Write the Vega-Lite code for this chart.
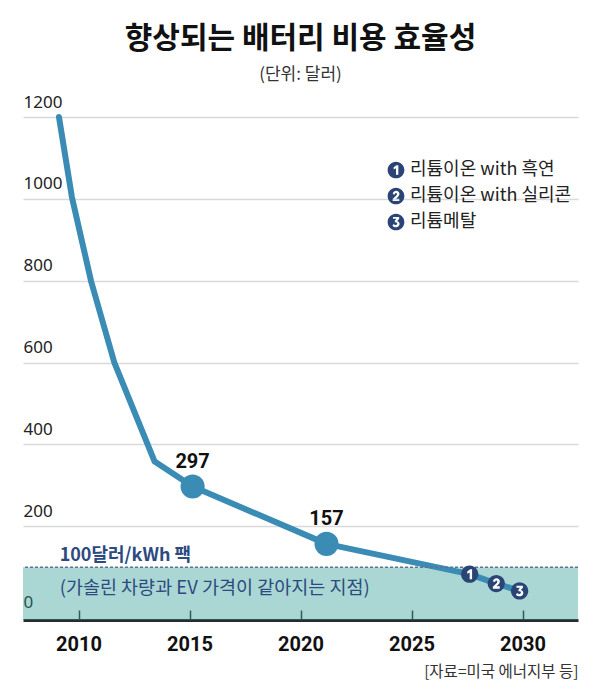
{
  "$schema": "https://vega.github.io/schema/vega-lite/v6.json",
  "autosize": {"type": "none"},
  "padding": {"left": 23, "top": 117, "right": 22, "bottom": 79},
  "width": 555,
  "height": 503,
  "background": "white",
  "title": {
    "text": "향상되는 배터리 비용 효율성",
    "subtitle": "(단위: 달러)",
    "anchor": "middle",
    "font": "Noto Sans CJK KR",
    "fontSize": 30,
    "fontWeight": "bold",
    "color": "#111111",
    "subtitleFont": "Noto Sans CJK KR",
    "subtitleFontSize": 17,
    "subtitleColor": "#333333",
    "subtitlePadding": 13,
    "offset": 10
  },
  "config": {
    "view": {"stroke": null},
    "axis": {"zindex": 0}
  },
  "datasets": {
    "cost": [
      {"year": 2009.12, "cost": 1200},
      {"year": 2009.70, "cost": 1005},
      {"year": 2010.57, "cost": 798},
      {"year": 2011.62, "cost": 599},
      {"year": 2013.43, "cost": 358},
      {"year": 2015.14, "cost": 297, "label": "297"},
      {"year": 2021.17, "cost": 157, "label": "157"},
      {"year": 2027.62, "cost": 83, "tech": "리튬이온 with 흑연"},
      {"year": 2028.82, "cost": 60, "tech": "리튬이온 with 실리콘"},
      {"year": 2029.87, "cost": 42, "tech": "리튬메탈"}
    ],
    "parity": [
      {"cost": 100, "title": "100달러/kWh 팩", "note": "(가솔린 차량과  EV 가격이 같아지는 지점)"}
    ]
  },
  "layer": [
    {
      "data": {"name": "parity"},
      "mark": {"type": "rect", "color": "#2a9a92", "opacity": 0.4},
      "encoding": {
        "y": {"field": "cost", "type": "quantitative"},
        "y2": {"datum": -29}
      }
    },
    {
      "data": {"name": "cost"},
      "mark": {"type": "line", "color": "#3a8cb5", "strokeWidth": 6, "strokeCap": "round", "strokeJoin": "round"},
      "encoding": {
        "x": {
          "field": "year", "type": "quantitative",
          "scale": {"domain": [2007.5, 2032.5], "nice": false, "zero": false},
          "axis": {
            "values": [2010, 2015, 2020, 2025, 2030],
            "format": "d",
            "grid": false,
            "labelFont": "Roboto",
            "labelFontSize": 20,
            "labelFontWeight": "bold",
            "labelColor": "#111111",
            "labelPadding": 24,
            "domainColor": "#2b2b2b",
            "domainWidth": 3,
            "tickColor": "#333333",
            "tickWidth": 1.5,
            "tickSize": -10,
            "title": "[자료=미국 에너지부 등]",
            "titleAnchor": "end",
            "titleFont": "Noto Sans CJK KR",
            "titleFontSize": 15.5,
            "titleFontWeight": "normal",
            "titleColor": "#333333",
            "titlePadding": 10
          }
        },
        "y": {
          "field": "cost", "type": "quantitative",
          "scale": {"domain": [-29, 1200], "nice": false, "zero": false},
          "axis": {
            "values": [0, 200, 400, 600, 800, 1000, 1200],
            "format": "d",
            "title": null,
            "domain": false,
            "ticks": false,
            "grid": true,
            "gridColor": "#d9d9d9",
            "gridWidth": 1.5,
            "gridOpacity": {"condition": {"test": "datum.value === 0", "value": 0}, "value": 1},
            "labelAlign": "left",
            "labelBaseline": "alphabetic",
            "labelPadding": 0,
            "labelOffset": {"condition": {"test": "datum.value === 0", "value": -1}, "value": -10},
            "labelFont": "Noto Sans",
            "labelFontSize": 17,
            "labelColor": "#222222"
          }
        }
      }
    },
    {
      "data": {"name": "parity"},
      "mark": {"type": "rule", "color": "#5f7396", "strokeWidth": 1.5, "strokeDash": [3, 2]},
      "encoding": {
        "y": {"field": "cost", "type": "quantitative"}
      }
    },
    {
      "data": {"name": "parity"},
      "mark": {"type": "text", "align": "left", "baseline": "middle", "dy": -11, "font": "Noto Sans CJK KR", "fontSize": 18, "fontWeight": "bold", "color": "#2d4a80"},
      "encoding": {
        "x": {"datum": 2009.15, "type": "quantitative"},
        "y": {"field": "cost", "type": "quantitative"},
        "text": {"field": "title"}
      }
    },
    {
      "data": {"name": "parity"},
      "mark": {"type": "text", "align": "left", "baseline": "middle", "dy": 21, "font": "Noto Sans CJK KR", "fontSize": 18.5, "color": "#2d4a80"},
      "encoding": {
        "x": {"datum": 2009.15, "type": "quantitative"},
        "y": {"field": "cost", "type": "quantitative"},
        "text": {"field": "note"}
      }
    },
    {
      "data": {"name": "cost"},
      "transform": [{"filter": "isValid(datum.label)"}],
      "mark": {"type": "point", "shape": "circle", "filled": true, "opacity": 1, "size": 580, "color": "#3a8cb5"},
      "encoding": {
        "x": {"field": "year", "type": "quantitative"},
        "y": {"field": "cost", "type": "quantitative"}
      }
    },
    {
      "data": {"name": "cost"},
      "transform": [{"filter": "isValid(datum.label)"}],
      "mark": {"type": "text", "dy": -25, "baseline": "middle", "font": "Roboto", "fontSize": 20, "fontWeight": "bold", "color": "#111111"},
      "encoding": {
        "x": {"field": "year", "type": "quantitative"},
        "y": {"field": "cost", "type": "quantitative"},
        "text": {"field": "label"}
      }
    },
    {
      "data": {"name": "cost"},
      "transform": [{"filter": "isValid(datum.tech)"}],
      "mark": {"type": "point", "shape": "circle", "filled": true, "opacity": 1, "size": 280, "color": "white"},
      "encoding": {
        "x": {"field": "year", "type": "quantitative"},
        "y": {"field": "cost", "type": "quantitative"}
      }
    },
    {
      "data": {"name": "cost"},
      "transform": [{"filter": "isValid(datum.tech)"}],
      "mark": {"type": "point", "filled": true, "opacity": 1, "size": 300, "strokeWidth": 0},
      "encoding": {
        "x": {"field": "year", "type": "quantitative"},
        "y": {"field": "cost", "type": "quantitative"},
        "color": {
          "field": "tech", "type": "nominal",
          "scale": {"domain": ["리튬이온 with 흑연", "리튬이온 with 실리콘", "리튬메탈"], "range": ["#2a4476", "#2a4476", "#2a4476"]},
          "legend": {
            "orient": "none",
            "legendX": 364,
            "legendY": 44,
            "title": null,
            "symbolSize": 280,
            "symbolStrokeWidth": 0,
            "labelFont": "Noto Sans CJK KR",
            "labelFontSize": 18,
            "labelColor": "#222222",
            "labelOffset": 5,
            "labelLimit": 300,
            "rowPadding": 8
          }
        },
        "shape": {
          "field": "tech", "type": "nominal",
          "scale": {
            "domain": ["리튬이온 with 흑연", "리튬이온 with 실리콘", "리튬메탈"],
            "range": [
              "M1,0A1,1,0,1,1,-1,0A1,1,0,1,1,1,0Z M0.28,-0.58L0.06,-0.58L-0.28,-0.32L-0.28,-0.06L0,-0.2L0,0.58L0.28,0.58Z",
              "M1,0A1,1,0,1,1,-1,0A1,1,0,1,1,1,0Z M-0.40,-0.24L-0.13,-0.18L-0.12,-0.28L-0.06,-0.35L0.04,-0.36L0.11,-0.31L0.12,-0.20L0.06,-0.08L-0.40,0.36L-0.40,0.60L0.40,0.60L0.40,0.32L0.02,0.32L0.30,0.04L0.40,-0.14L0.40,-0.36L0.28,-0.54L0.08,-0.62L-0.12,-0.60L-0.30,-0.47Z",
              "M1,0A1,1,0,1,1,-1,0A1,1,0,1,1,1,0Z M-0.36,-0.60L-0.36,-0.38L0.04,-0.38L-0.14,-0.14L-0.14,0.04L0.06,0.05L0.14,0.12L0.14,0.24L0.08,0.33L-0.04,0.36L-0.18,0.32L-0.30,0.24L-0.42,0.46L-0.30,0.56L-0.12,0.62L0.10,0.62L0.30,0.52L0.42,0.34L0.42,0.14L0.32,-0.02L0.14,-0.10L0.38,-0.38L0.38,-0.60Z"
            ]
          },
          "legend": {
            "orient": "none",
            "legendX": 364,
            "legendY": 44,
            "title": null
          }
        }
      }
    }
  ]
}
